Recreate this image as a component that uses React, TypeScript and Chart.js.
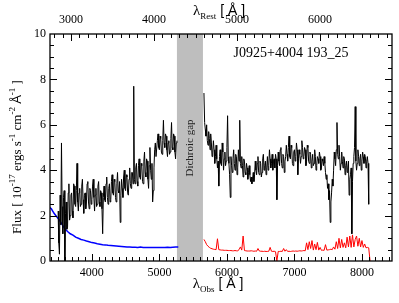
import React, { useEffect, useRef } from "react";
import { Chart, registerables } from "chart.js";

Chart.register(...registerables);

// ---------- axes ----------
const REDSHIFT_FACTOR = 1.23; // 1 + z
const OBS_MIN = 3380;
const OBS_MAX = 8445;
const OBS_TICKS = [4000, 5000, 6000, 7000, 8000];
const REST_TICKS = [3000, 4000, 5000, 6000];
const FLUX_TICKS = [0, 2, 4, 6, 8, 10];
const GAP_RANGE = [5260, 5645];
const OBJECT_LABEL = "J0925+4004 193_25";
const GAP_LABEL = "Dichroic gap";

// ---------- spectrum, blue arm (black line), 10 Å grid ----------
const BLUE_ARM_START = 3500;
const BLUE_ARM_STEP = 10;
const blueArmFlux = [
  2.2, 0.8, 0.3, 2.9, 1.6, 5.2, 2.4, 1.2, 2.8, 3.1,
  0.0, 2.1, 2.6, 1.4, 1.5, 3.0, 3.4, 1.8, 2.0, 2.9,
  3.0, 2.2, 1.9, 3.4, 3.3, 2.5, 2.4, 3.1, 4.3, 2.6,
  2.2, 3.0, 3.2, 2.4, 2.5, 3.3, 3.6, 2.7, 2.1, 2.9,
  3.0, 2.3, 2.6, 3.4, 3.5, 2.6, 2.3, 3.2, 3.1, 2.5,
  2.7, 3.3, 3.6, 2.8, 2.2, 2.9, 3.2, 2.4, 2.5, 3.3,
  3.5, 2.6, 2.4, 3.1, 3.0, 2.3, 1.2, 2.8, 3.3, 2.7,
  2.6, 3.4, 3.7, 2.8, 2.5, 3.2, 3.4, 2.6, 2.7, 3.5,
  3.8, 3.0, 2.9, 3.6, 3.5, 2.8, 2.6, 3.4, 3.9, 3.1,
  3.0, 3.5, 1.7, 2.9, 3.6, 3.2, 2.8, 3.7, 4.0, 3.2,
  3.1, 3.8, 3.7, 3.0, 2.9, 3.6, 4.1, 3.4, 3.2, 3.9,
  3.9, 3.4, 7.7, 3.6, 3.4, 4.1, 4.3, 3.5, 3.3, 4.2,
  4.5, 3.7, 3.6, 4.3, 4.2, 3.5, 3.4, 4.4, 4.8, 3.9,
  3.7, 4.5, 4.4, 3.6, 3.2, 4.2, 5.0, 4.0, 3.6, 4.3,
  2.6, 3.1, 4.1, 4.9, 5.2, 4.6, 4.6, 5.3, 5.6, 5.0,
  4.9, 5.5, 5.4, 4.8, 4.7, 5.3, 6.2, 5.2, 5.0, 5.6,
  5.5, 4.9, 4.6, 5.2, 5.3, 4.7, 4.8, 5.4, 6.1, 5.0,
  4.9, 5.6, 5.5, 4.8, 4.5, 5.2, 5.3,
];

// ---------- spectrum, red arm (black line), 10 Å grid ----------
const RED_ARM_START = 5660;
const RED_ARM_STEP = 10;
const redArmFlux = [
  7.4, 6.1, 5.8, 5.5, 6.0, 5.3, 5.1, 5.7, 5.4, 4.9,
  5.6, 5.2, 4.6, 4.8, 5.3, 4.9, 4.3, 4.6, 5.1, 4.5,
  4.1, 4.4, 3.3, 4.6, 4.9, 4.3, 4.2, 5.2, 4.8, 4.0,
  4.5, 4.8, 4.2, 4.4, 5.0, 6.4, 4.6, 4.3, 3.8, 2.8,
  4.6, 4.2, 3.9, 4.5, 4.9, 4.3, 4.0, 4.7, 4.6, 3.8,
  4.1, 4.9, 4.4, 6.2, 4.3, 4.1, 4.6, 4.2, 3.7, 4.5,
  4.4, 3.9, 3.8, 4.3, 4.1, 3.6, 3.9, 4.2, 3.8, 3.5,
  3.7, 3.4, 3.6, 3.9, 3.5, 3.8, 4.4, 4.0, 3.8, 4.3,
  4.6, 3.9, 3.8, 4.4, 4.3, 3.7, 3.9, 4.5, 4.7, 4.0,
  4.2, 4.4, 3.8, 4.1, 4.6, 4.0, 4.2, 4.9, 4.5, 4.1,
  4.3, 4.7, 4.0, 4.4, 4.5, 4.1, 4.7, 4.5, 2.7, 4.2,
  4.8, 4.4, 4.2, 4.9, 5.0, 4.3, 4.1, 4.7, 4.6, 3.9,
  4.4, 4.6, 5.1, 4.7, 4.4, 5.0, 5.5, 4.6, 4.5, 5.1,
  5.0, 4.3, 4.2, 4.8, 4.9, 4.4, 4.6, 5.2, 4.9, 3.8,
  4.5, 4.9, 4.7, 4.3, 4.6, 5.3, 5.0, 4.5, 4.6, 5.0,
  4.9, 4.2, 4.4, 5.1, 5.0, 4.4, 4.3, 4.8, 4.7, 4.1,
  4.4, 4.7, 4.2, 4.3, 4.9, 4.6, 4.0, 4.2, 4.6, 4.5,
  4.3, 4.8, 4.6, 4.0, 4.1, 4.5, 4.4, 4.2, 4.6, 4.3,
  3.9, 3.6, 3.8, 3.2, 3.4, 2.7, 3.1, 1.7, 2.6, 3.0,
  3.6, 3.3, 4.0, 4.8, 4.5, 4.2, 4.9, 6.1, 4.7, 4.5,
  5.1, 4.6, 4.0, 4.3, 4.8, 4.4, 4.1, 4.6, 4.5, 3.8,
  4.2, 4.4, 3.9, 4.1, 4.4, 2.9, 3.6, 3.8, 4.1, 1.2,
  3.5, 4.3, 4.6, 5.0, 6.8, 4.4, 4.0, 4.3, 4.9, 4.6,
  4.2, 4.5, 4.7, 4.0, 4.4, 4.8, 4.6, 4.3, 4.7, 4.6,
  4.1, 4.4, 4.6, 4.3, 2.5,
];

// ---------- error, blue arm (blue line) ----------
const BLUE_ERR_START = 3360;
const BLUE_ERR_STEP = 40;
const blueErr = [
  2.4, 2.3, 2.1, 1.95, 1.8, 1.6, 1.42, 1.3, 1.2, 1.14,
  1.05, 1.0, 0.95, 0.92, 0.88, 0.85, 0.81, 0.79, 0.76, 0.74,
  0.72, 0.71, 0.69, 0.68, 0.67, 0.66, 0.65, 0.64, 0.63, 0.62,
  0.62, 0.61, 0.61, 0.6, 0.62, 0.6, 0.6, 0.59, 0.6, 0.6,
  0.59, 0.6, 0.6, 0.6, 0.61, 0.6, 0.61, 0.62, 0.62,
];

// ---------- error, red arm (red line) ----------
const RED_ERR_START = 5660;
const RED_ERR_STEP = 20;
const redErr = [
  0.95, 0.85, 0.72, 0.65, 0.6, 0.56, 0.54, 0.52, 0.51, 0.5,
  0.98, 0.5, 0.49, 0.48, 0.48, 0.47, 0.47, 0.47, 0.46, 0.46,
  0.46, 0.45, 0.45, 0.46, 0.45, 0.45, 0.5, 0.62, 0.48, 1.1,
  0.46, 0.45, 0.44, 0.44, 0.44, 0.45, 0.44, 0.43, 0.44, 0.43,
  0.55, 0.44, 0.43, 0.43, 0.42, 0.43, 0.42, 0.42, 0.43, 0.6,
  0.43, 0.42, 0.43, 0.41, 0.0, 0.42, 0.42, 0.43, 0.42, 0.55,
  0.43, 0.5, 0.42, 0.43, 0.42, 0.43, 0.44, 0.43, 0.44, 0.43,
  0.44, 0.45, 0.44, 0.45, 0.46, 0.45, 0.8, 0.5, 0.85, 0.55,
  0.9, 0.48, 0.75, 0.5, 0.82, 0.48, 0.6, 0.47, 0.48, 0.47,
  0.72, 0.48, 0.49, 0.5, 0.52, 0.5, 0.62, 0.52, 0.85, 0.55,
  1.0, 0.58, 0.95, 0.6, 0.8, 0.58, 1.05, 0.62, 1.1, 0.6,
  1.15, 0.62, 0.95, 1.1, 0.65, 1.0, 0.62, 0.9, 0.6, 0.75,
  0.58, 0.6, 0.58, 0.0,
];

const toPoints = (start: number, step: number, ys: number[]) =>
  ys.map((y, i) => ({ x: start + step * i, y }));

const SERIF = '"Liberation Serif", "Times New Roman", serif';
const SANS = '"Liberation Sans", Arial, sans-serif';

type Seg = { t: string; font: string; dy: number };

function drawSegs(ctx: CanvasRenderingContext2D, segs: Seg[], cx: number, y: number) {
  let total = 0;
  const widths = segs.map((s) => {
    ctx.font = s.font;
    const w = ctx.measureText(s.t).width;
    total += w;
    return w;
  });
  let x = cx - total / 2;
  ctx.textAlign = "left";
  ctx.textBaseline = "alphabetic";
  segs.forEach((s, i) => {
    ctx.font = s.font;
    ctx.fillText(s.t, x, y + s.dy);
    x += widths[i];
  });
}

const decorPlugin = {
  id: "decor",
  beforeDatasetsDraw(chart: any) {
    const { ctx, chartArea: a, scales } = chart;
    const x = scales.x;
    const x0 = x.getPixelForValue(GAP_RANGE[0]);
    const x1 = x.getPixelForValue(GAP_RANGE[1]);
    ctx.save();
    ctx.fillStyle = "#bebebe";
    ctx.fillRect(x0, a.top, x1 - x0, a.bottom - a.top);
    ctx.restore();
  },
  afterDraw(chart: any) {
    const { ctx, chartArea: a, scales } = chart;
    const x = scales.x;
    const xr = scales.xr;
    const y = scales.y;
    ctx.save();
    const gx = (x.getPixelForValue(GAP_RANGE[0]) + x.getPixelForValue(GAP_RANGE[1])) / 2;
    ctx.translate(gx, 148);
    ctx.rotate(-Math.PI / 2);
    ctx.fillStyle = "#222";
    ctx.font = `11px ${SERIF}`;
    ctx.textAlign = "center";
    ctx.textBaseline = "middle";
    ctx.fillText(GAP_LABEL, 0, 0);
    ctx.restore();

    ctx.save();
    ctx.strokeStyle = "#000";
    ctx.lineWidth = 1.3;
    ctx.strokeRect(a.left, a.top, a.right - a.left, a.bottom - a.top);
    ctx.lineWidth = 1;
    ctx.beginPath();
    for (let v = 3400; v <= 8400; v += 100) {
      const px = Math.round(x.getPixelForValue(v)) + 0.5;
      if (px <= a.left || px >= a.right) continue;
      const len = v % 1000 === 0 ? 7 : 4;
      ctx.moveTo(px, a.bottom);
      ctx.lineTo(px, a.bottom - len);
    }
    for (let v = 2800; v <= 6900; v += 100) {
      const px = Math.round(xr.getPixelForValue(v)) + 0.5;
      if (px <= a.left || px >= a.right) continue;
      const len = v % 1000 === 0 ? 7 : 4;
      ctx.moveTo(px, a.top);
      ctx.lineTo(px, a.top + len);
    }
    for (let v = 0.5; v < 10; v += 0.5) {
      const py = Math.round(y.getPixelForValue(v)) + 0.5;
      const len = v % 2 === 0 ? 7 : 4;
      ctx.moveTo(a.left, py);
      ctx.lineTo(a.left + len, py);
      ctx.moveTo(a.right, py);
      ctx.lineTo(a.right - len, py);
    }
    ctx.stroke();

    ctx.fillStyle = "#000";
    ctx.font = `14px ${SERIF}`;
    ctx.textAlign = "center";
    ctx.textBaseline = "alphabetic";
    ctx.fillText(OBJECT_LABEL, 291, 57);

    drawSegs(
      ctx,
      [
        { t: "λ", font: `15px ${SERIF}`, dy: 0 },
        { t: "Obs", font: `9px ${SERIF}`, dy: 4 },
        { t: " ", font: `14px ${SANS}`, dy: 0 },
        { t: "[ Å ]", font: `14px ${SANS}`, dy: 0 },
      ],
      218,
      288
    );
    drawSegs(
      ctx,
      [
        { t: "λ", font: `15px ${SERIF}`, dy: 0 },
        { t: "Rest", font: `9px ${SERIF}`, dy: 4 },
        { t: " ", font: `14px ${SANS}`, dy: 0 },
        { t: "[ Å ]", font: `14px ${SANS}`, dy: 0 },
      ],
      219,
      15
    );
    ctx.translate(21, 157);
    ctx.rotate(-Math.PI / 2);
    const big = `13px ${SERIF}`;
    const sup = `9px ${SERIF}`;
    drawSegs(
      ctx,
      [
        { t: "Flux [ 10", font: big, dy: 0 },
        { t: "-17", font: sup, dy: -6 },
        { t: " ergs s", font: big, dy: 0 },
        { t: "-1", font: sup, dy: -6 },
        { t: " cm", font: big, dy: 0 },
        { t: "-2", font: sup, dy: -6 },
        { t: " ", font: big, dy: 0 },
        { t: "Å", font: `13px ${SANS}`, dy: 0 },
        { t: "-1", font: sup, dy: -6 },
        { t: " ]", font: big, dy: 0 },
      ],
      0,
      0
    );
    ctx.restore();
  },
};

export default function App() {
  const ref = useRef<HTMLCanvasElement | null>(null);
  useEffect(() => {
    if (!ref.current) return;
    const tickFont = { family: SERIF, size: 12 };
    const plain = (v: any) => String(v);
    const chart = new Chart(ref.current, {
      type: "line",
      data: {
        datasets: [
          {
            data: toPoints(BLUE_ARM_START, BLUE_ARM_STEP, blueArmFlux),
            borderColor: "#000",
            borderWidth: 1,
            pointRadius: 0,
            order: 0,
            xAxisID: "x",
            yAxisID: "y",
          },
          {
            data: toPoints(RED_ARM_START, RED_ARM_STEP, redArmFlux),
            borderColor: "#000",
            borderWidth: 1,
            pointRadius: 0,
            order: 0,
            xAxisID: "x",
            yAxisID: "y",
          },
          {
            data: toPoints(BLUE_ERR_START, BLUE_ERR_STEP, blueErr),
            borderColor: "#0000ff",
            borderWidth: 1.5,
            pointRadius: 0,
            order: 1,
            xAxisID: "x",
            yAxisID: "y",
          },
          {
            data: toPoints(RED_ERR_START, RED_ERR_STEP, redErr),
            borderColor: "#ff0000",
            borderWidth: 1,
            pointRadius: 0,
            order: 1,
            xAxisID: "x",
            yAxisID: "y",
          },
        ],
      },
      options: {
        animation: false,
        responsive: false,
        devicePixelRatio: 1,
        layout: { padding: { left: 0, right: 7, top: 0, bottom: 0 } },
        plugins: { legend: { display: false }, tooltip: { enabled: false } },
        elements: { line: { tension: 0 } },
        scales: {
          x: {
            type: "linear",
            position: "bottom",
            min: OBS_MIN,
            max: OBS_MAX,
            grid: { display: false, drawTicks: false },
            border: { display: false },
            ticks: { font: tickFont, color: "#000", padding: 5, maxRotation: 0, callback: plain },
            afterBuildTicks: (s: any) => {
              s.ticks = OBS_TICKS.map((v) => ({ value: v }));
            },
            afterFit: (s: any) => {
              s.height = 42;
            },
          },
          xr: {
            type: "linear",
            position: "top",
            min: OBS_MIN / REDSHIFT_FACTOR,
            max: OBS_MAX / REDSHIFT_FACTOR,
            grid: { display: false, drawTicks: false },
            border: { display: false },
            ticks: { font: tickFont, color: "#000", padding: 7, maxRotation: 0, callback: plain },
            afterBuildTicks: (s: any) => {
              s.ticks = REST_TICKS.map((v) => ({ value: v }));
            },
            afterFit: (s: any) => {
              s.height = 34;
            },
          },
          y: {
            type: "linear",
            min: 0,
            max: 10,
            grid: { display: false, drawTicks: false },
            border: { display: false },
            ticks: { font: tickFont, color: "#000", padding: 4, callback: plain },
            afterBuildTicks: (s: any) => {
              s.ticks = FLUX_TICKS.map((v) => ({ value: v }));
            },
            afterFit: (s: any) => {
              s.width = 50;
            },
          },
        },
      },
      plugins: [decorPlugin],
    } as any);
    return () => chart.destroy();
  }, []);
  return (
    <div style={{ position: "absolute", left: 0, top: 0, width: 399, height: 303, background: "#fff" }}>
      <canvas ref={ref} width={399} height={303} style={{ display: "block" }} />
    </div>
  );
}
